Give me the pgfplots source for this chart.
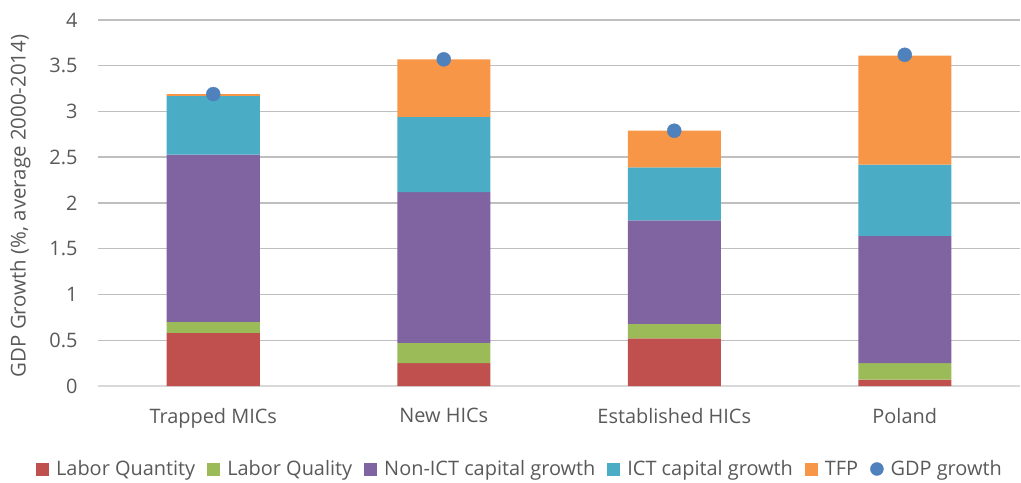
\documentclass[border=0pt]{standalone}
\usepackage{pgfplots}
\pgfplotsset{compat=1.18}
\usepackage{fontspec}
\setmainfont{Open Sans}
\definecolor{txt}{HTML}{595959}
\definecolor{grid}{HTML}{D9D9D9}
\definecolor{cLQ}{HTML}{C0504D}
\definecolor{cLQl}{HTML}{9BBB59}
\definecolor{cNI}{HTML}{8064A2}
\definecolor{cICT}{HTML}{4BACC6}
\definecolor{cTFP}{HTML}{F79646}
\definecolor{cGDP}{HTML}{4F81BD}
\pgfplotsset{sq/.style={legend image code/.code={\fill[##1] (0bp,-6.5bp) rectangle (13bp,6.5bp);}}}
\begin{document}
\begin{tikzpicture}
\path[use as bounding box] (-98bp,-97bp) rectangle (923bp,386bp);
\begin{axis}[
  at={(0,0)}, anchor=south west,
  scale only axis, width=922bp, height=366bp,
  xmin=-0.5, xmax=3.5, ymin=0, ymax=4,
  bar width=93bp,
  xtick={0,1,2,3},
  xticklabels={Trapped MICs,New HICs,Established HICs,Poland},
  ytick={0,0.5,...,4},
  yticklabels={0,0.5,1,1.5,2,2.5,3,3.5,4},
  xmajorgrids=false,
  ymajorgrids, grid style={grid, line width=1.5bp},
  axis line style={draw=none},
  axis x line*=bottom,
  x axis line style={draw=grid, line width=1.5bp},
  xtick style={draw=none}, ytick style={draw=none},
  major tick length=0pt,
  tick label style={font=\fontsize{20}{24}\selectfont, text=txt},
  yticklabel style={xshift=-17bp},
  xticklabel style={yshift=-19bp},
  /pgf/number format/assume math mode=true,
  ylabel={GDP Growth (\%, average 2000-2014)},
  ylabel style={font=\fontsize{20.5}{24}\selectfont, text=txt, at={(-64bp,180bp)}, anchor=south, rotate=0},
  legend style={at={(422bp,-83bp)}, anchor=center, draw=none, fill=none,
    font=\fontsize{20}{24}\selectfont, text=txt, legend columns=-1,
    /tikz/every odd column/.append style={column sep=5bp},
    /tikz/every even column/.append style={column sep=10bp}},
  legend cell align=left,
]
\addplot[ybar, stack plots=y, bar shift=0pt, fill=cLQ, draw=none, sq] coordinates {(0,0.58) (1,0.25) (2,0.52) (3,0.07)};
\addplot[ybar, stack plots=y, bar shift=0pt, fill=cLQl, draw=none, sq] coordinates {(0,0.12) (1,0.22) (2,0.16) (3,0.18)};
\addplot[ybar, stack plots=y, bar shift=0pt, fill=cNI, draw=none, sq] coordinates {(0,1.83) (1,1.65) (2,1.13) (3,1.39)};
\addplot[ybar, stack plots=y, bar shift=0pt, fill=cICT, draw=none, sq] coordinates {(0,0.64) (1,0.82) (2,0.58) (3,0.78)};
\addplot[ybar, stack plots=y, bar shift=0pt, fill=cTFP, draw=none, sq] coordinates {(0,0.02) (1,0.63) (2,0.40) (3,1.19)};
\addplot[stack plots=false, sharp plot, only marks, mark=*, mark size=7bp, color=cGDP, mark options={fill=cGDP, draw=cGDP},
  legend image code/.code={\fill[cGDP] (6.5bp,0bp) circle (6.5bp);}] coordinates {(0,3.19) (1,3.57) (2,2.79) (3,3.62)};
\legend{Labor Quantity, Labor Quality, Non-ICT capital growth, ICT capital growth, TFP, GDP growth}
\end{axis}
\end{tikzpicture}
\end{document}
